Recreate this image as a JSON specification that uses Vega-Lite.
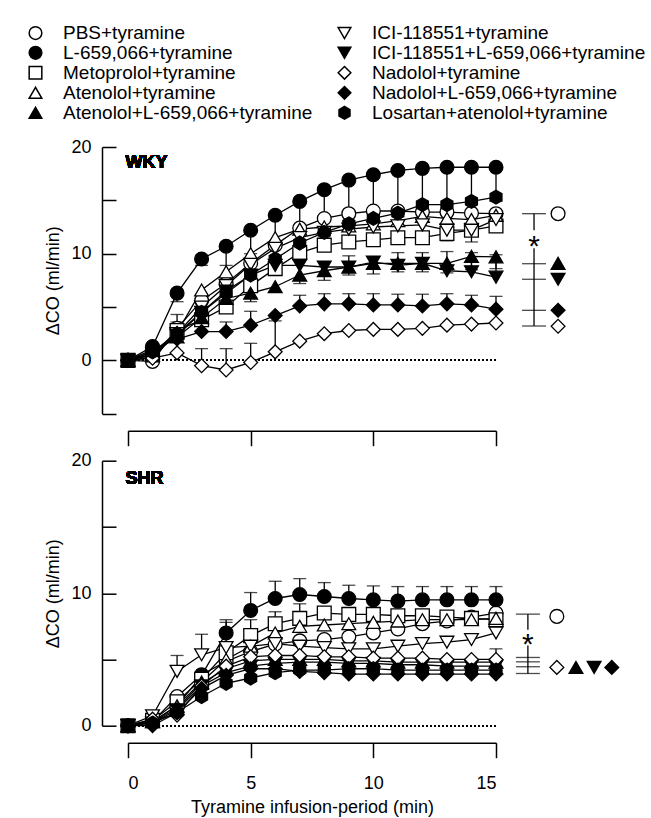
{
"$schema": "https://vega.github.io/schema/vega-lite/v6.json",
"background": "white",
"padding": {"left": 26, "top": 23, "right": 5, "bottom": 5},
"config": {
  "font": "Liberation Sans",
  "view": {"stroke": null},
  "axis": {"domainColor": "black", "tickColor": "black", "domainWidth": 1.5, "tickWidth": 1.5, "labelColor": "black", "titleColor": "black", "labelFontSize": 18, "titleFontSize": 18, "titleFontWeight": "normal", "grid": false, "labelFont": "Liberation Sans", "titleFont": "Liberation Sans"},
  "text": {"font": "Liberation Sans", "color": "black"}
},
"datasets": {
  "wky": [
    {"s":"PBS+tyramine","t":0,"v":0},{"s":"PBS+tyramine","t":1,"v":-0.1},{"s":"PBS+tyramine","t":2,"v":3.0,"e":4.3},{"s":"PBS+tyramine","t":3,"v":5.6},{"s":"PBS+tyramine","t":4,"v":7.2},{"s":"PBS+tyramine","t":5,"v":9.1},{"s":"PBS+tyramine","t":6,"v":10.8},{"s":"PBS+tyramine","t":7,"v":12.4},{"s":"PBS+tyramine","t":8,"v":13.3},{"s":"PBS+tyramine","t":9,"v":13.75},{"s":"PBS+tyramine","t":10,"v":14.0},{"s":"PBS+tyramine","t":11,"v":14.0},{"s":"PBS+tyramine","t":12,"v":13.9},{"s":"PBS+tyramine","t":13,"v":13.9},{"s":"PBS+tyramine","t":14,"v":13.8},{"s":"PBS+tyramine","t":15,"v":13.75},
    {"s":"L-659,066+tyramine","t":0,"v":0},{"s":"L-659,066+tyramine","t":1,"v":1.3},{"s":"L-659,066+tyramine","t":2,"v":6.3,"e":5.5},{"s":"L-659,066+tyramine","t":3,"v":9.5,"e":8.9},{"s":"L-659,066+tyramine","t":4,"v":10.7,"e":8.9},{"s":"L-659,066+tyramine","t":5,"v":12.2,"e":10.0},{"s":"L-659,066+tyramine","t":6,"v":13.6,"e":11.0},{"s":"L-659,066+tyramine","t":7,"v":14.9,"e":12.0},{"s":"L-659,066+tyramine","t":8,"v":16.0,"e":13.0},{"s":"L-659,066+tyramine","t":9,"v":16.9,"e":13.7},{"s":"L-659,066+tyramine","t":10,"v":17.4,"e":14.0},{"s":"L-659,066+tyramine","t":11,"v":17.8,"e":14.3},{"s":"L-659,066+tyramine","t":12,"v":18.0,"e":14.5},{"s":"L-659,066+tyramine","t":13,"v":18.1,"e":14.6},{"s":"L-659,066+tyramine","t":14,"v":18.1,"e":14.8},{"s":"L-659,066+tyramine","t":15,"v":18.1,"e":14.9},
    {"s":"Metoprolol+tyramine","t":0,"v":0},{"s":"Metoprolol+tyramine","t":1,"v":0.5},{"s":"Metoprolol+tyramine","t":2,"v":2.8,"e":3.6},{"s":"Metoprolol+tyramine","t":3,"v":3.8},{"s":"Metoprolol+tyramine","t":4,"v":5.0},{"s":"Metoprolol+tyramine","t":5,"v":7.0},{"s":"Metoprolol+tyramine","t":6,"v":8.6,"e":9.5},{"s":"Metoprolol+tyramine","t":7,"v":10.1},{"s":"Metoprolol+tyramine","t":8,"v":10.8},{"s":"Metoprolol+tyramine","t":9,"v":11.1},{"s":"Metoprolol+tyramine","t":10,"v":11.3},{"s":"Metoprolol+tyramine","t":11,"v":11.5},{"s":"Metoprolol+tyramine","t":12,"v":11.5},{"s":"Metoprolol+tyramine","t":13,"v":11.9},{"s":"Metoprolol+tyramine","t":14,"v":12.2},{"s":"Metoprolol+tyramine","t":15,"v":12.6},
    {"s":"Atenolol+tyramine","t":0,"v":0},{"s":"Atenolol+tyramine","t":1,"v":0.5},{"s":"Atenolol+tyramine","t":2,"v":2.6},{"s":"Atenolol+tyramine","t":3,"v":6.6},{"s":"Atenolol+tyramine","t":4,"v":8.3},{"s":"Atenolol+tyramine","t":5,"v":10.0},{"s":"Atenolol+tyramine","t":6,"v":11.5},{"s":"Atenolol+tyramine","t":7,"v":12.3},{"s":"Atenolol+tyramine","t":8,"v":12.5},{"s":"Atenolol+tyramine","t":9,"v":12.6},{"s":"Atenolol+tyramine","t":10,"v":12.8},{"s":"Atenolol+tyramine","t":11,"v":13.1},{"s":"Atenolol+tyramine","t":12,"v":13.5},{"s":"Atenolol+tyramine","t":13,"v":13.3},{"s":"Atenolol+tyramine","t":14,"v":13.2},{"s":"Atenolol+tyramine","t":15,"v":13.6},
    {"s":"Atenolol+L-659,066+tyramine","t":0,"v":0},{"s":"Atenolol+L-659,066+tyramine","t":1,"v":0.8},{"s":"Atenolol+L-659,066+tyramine","t":2,"v":2.2},{"s":"Atenolol+L-659,066+tyramine","t":3,"v":4.0},{"s":"Atenolol+L-659,066+tyramine","t":4,"v":5.8},{"s":"Atenolol+L-659,066+tyramine","t":5,"v":6.3,"e":5.5},{"s":"Atenolol+L-659,066+tyramine","t":6,"v":6.9},{"s":"Atenolol+L-659,066+tyramine","t":7,"v":8.0,"e":7.2},{"s":"Atenolol+L-659,066+tyramine","t":8,"v":8.4,"e":7.5},{"s":"Atenolol+L-659,066+tyramine","t":9,"v":8.75,"e":8.0},{"s":"Atenolol+L-659,066+tyramine","t":10,"v":9.1,"e":8.1},{"s":"Atenolol+L-659,066+tyramine","t":11,"v":9.1,"e":8.3},{"s":"Atenolol+L-659,066+tyramine","t":12,"v":9.1,"e":8.3},{"s":"Atenolol+L-659,066+tyramine","t":13,"v":9.1,"e":8.2},{"s":"Atenolol+L-659,066+tyramine","t":14,"v":9.75,"e":8.5},{"s":"Atenolol+L-659,066+tyramine","t":15,"v":9.7,"e":8.6},
    {"s":"ICI-118551+tyramine","t":0,"v":0},{"s":"ICI-118551+tyramine","t":1,"v":0.3},{"s":"ICI-118551+tyramine","t":2,"v":2.5},{"s":"ICI-118551+tyramine","t":3,"v":5.0},{"s":"ICI-118551+tyramine","t":4,"v":7.0},{"s":"ICI-118551+tyramine","t":5,"v":9.0},{"s":"ICI-118551+tyramine","t":6,"v":10.5},{"s":"ICI-118551+tyramine","t":7,"v":11.5},{"s":"ICI-118551+tyramine","t":8,"v":12.0},{"s":"ICI-118551+tyramine","t":9,"v":12.3},{"s":"ICI-118551+tyramine","t":10,"v":12.5},{"s":"ICI-118551+tyramine","t":11,"v":12.6},{"s":"ICI-118551+tyramine","t":12,"v":12.7},{"s":"ICI-118551+tyramine","t":13,"v":12.2,"e":11.2},{"s":"ICI-118551+tyramine","t":14,"v":12.2,"e":11.1},{"s":"ICI-118551+tyramine","t":15,"v":13.2},
    {"s":"ICI-118551+L-659,066+tyramine","t":0,"v":0},{"s":"ICI-118551+L-659,066+tyramine","t":1,"v":0.6},{"s":"ICI-118551+L-659,066+tyramine","t":2,"v":2.3},{"s":"ICI-118551+L-659,066+tyramine","t":3,"v":4.5},{"s":"ICI-118551+L-659,066+tyramine","t":4,"v":6.5},{"s":"ICI-118551+L-659,066+tyramine","t":5,"v":8.0},{"s":"ICI-118551+L-659,066+tyramine","t":6,"v":8.9},{"s":"ICI-118551+L-659,066+tyramine","t":7,"v":8.9},{"s":"ICI-118551+L-659,066+tyramine","t":8,"v":8.75},{"s":"ICI-118551+L-659,066+tyramine","t":9,"v":8.75,"e":9.8},{"s":"ICI-118551+L-659,066+tyramine","t":10,"v":9.2},{"s":"ICI-118551+L-659,066+tyramine","t":11,"v":8.9,"e":10.1},{"s":"ICI-118551+L-659,066+tyramine","t":12,"v":9.1,"e":10.1},{"s":"ICI-118551+L-659,066+tyramine","t":13,"v":8.4,"e":10.2},{"s":"ICI-118551+L-659,066+tyramine","t":14,"v":8.3,"e":10.1},{"s":"ICI-118551+L-659,066+tyramine","t":15,"v":7.8,"e":9.9},
    {"s":"Nadolol+tyramine","t":0,"v":0},{"s":"Nadolol+tyramine","t":1,"v":0.2},{"s":"Nadolol+tyramine","t":2,"v":0.7},{"s":"Nadolol+tyramine","t":3,"v":-0.5,"e":1.1},{"s":"Nadolol+tyramine","t":4,"v":-0.9,"e":1.1},{"s":"Nadolol+tyramine","t":5,"v":-0.2,"e":1.6},{"s":"Nadolol+tyramine","t":6,"v":0.8,"e":3.7},{"s":"Nadolol+tyramine","t":7,"v":1.8},{"s":"Nadolol+tyramine","t":8,"v":2.5},{"s":"Nadolol+tyramine","t":9,"v":2.8},{"s":"Nadolol+tyramine","t":10,"v":2.9},{"s":"Nadolol+tyramine","t":11,"v":2.9},{"s":"Nadolol+tyramine","t":12,"v":3.0},{"s":"Nadolol+tyramine","t":13,"v":3.3},{"s":"Nadolol+tyramine","t":14,"v":3.4},{"s":"Nadolol+tyramine","t":15,"v":3.5},
    {"s":"Nadolol+L-659,066+tyramine","t":0,"v":0},{"s":"Nadolol+L-659,066+tyramine","t":1,"v":1.0},{"s":"Nadolol+L-659,066+tyramine","t":2,"v":2.0},{"s":"Nadolol+L-659,066+tyramine","t":3,"v":2.7},{"s":"Nadolol+L-659,066+tyramine","t":4,"v":2.7,"e":3.6},{"s":"Nadolol+L-659,066+tyramine","t":5,"v":3.3,"e":4.6},{"s":"Nadolol+L-659,066+tyramine","t":6,"v":4.2},{"s":"Nadolol+L-659,066+tyramine","t":7,"v":5.1,"e":6.1},{"s":"Nadolol+L-659,066+tyramine","t":8,"v":5.3,"e":6.25},{"s":"Nadolol+L-659,066+tyramine","t":9,"v":5.3,"e":6.25},{"s":"Nadolol+L-659,066+tyramine","t":10,"v":5.2,"e":6.25},{"s":"Nadolol+L-659,066+tyramine","t":11,"v":5.2,"e":6.2},{"s":"Nadolol+L-659,066+tyramine","t":12,"v":5.1,"e":6.2},{"s":"Nadolol+L-659,066+tyramine","t":13,"v":5.3,"e":6.25},{"s":"Nadolol+L-659,066+tyramine","t":14,"v":5.2,"e":6.1},{"s":"Nadolol+L-659,066+tyramine","t":15,"v":4.8,"e":6.0},
    {"s":"Losartan+atenolol+tyramine","t":0,"v":0},{"s":"Losartan+atenolol+tyramine","t":1,"v":0.8},{"s":"Losartan+atenolol+tyramine","t":2,"v":2.5},{"s":"Losartan+atenolol+tyramine","t":3,"v":4.5},{"s":"Losartan+atenolol+tyramine","t":4,"v":6.3},{"s":"Losartan+atenolol+tyramine","t":5,"v":8.0},{"s":"Losartan+atenolol+tyramine","t":6,"v":9.5},{"s":"Losartan+atenolol+tyramine","t":7,"v":11.0},{"s":"Losartan+atenolol+tyramine","t":8,"v":12.0},{"s":"Losartan+atenolol+tyramine","t":9,"v":12.8},{"s":"Losartan+atenolol+tyramine","t":10,"v":13.3},{"s":"Losartan+atenolol+tyramine","t":11,"v":13.8},{"s":"Losartan+atenolol+tyramine","t":12,"v":14.6},{"s":"Losartan+atenolol+tyramine","t":13,"v":14.6},{"s":"Losartan+atenolol+tyramine","t":14,"v":14.9},{"s":"Losartan+atenolol+tyramine","t":15,"v":15.3}
  ],
  "shr": [
    {"s":"PBS+tyramine","t":0,"v":0},{"s":"PBS+tyramine","t":1,"v":0.3},{"s":"PBS+tyramine","t":2,"v":2.2},{"s":"PBS+tyramine","t":3,"v":3.85},{"s":"PBS+tyramine","t":4,"v":4.85},{"s":"PBS+tyramine","t":5,"v":5.6},{"s":"PBS+tyramine","t":6,"v":6.15},{"s":"PBS+tyramine","t":7,"v":6.4},{"s":"PBS+tyramine","t":8,"v":6.5},{"s":"PBS+tyramine","t":9,"v":6.7},{"s":"PBS+tyramine","t":10,"v":7.0},{"s":"PBS+tyramine","t":11,"v":7.3},{"s":"PBS+tyramine","t":12,"v":7.7},{"s":"PBS+tyramine","t":13,"v":7.9},{"s":"PBS+tyramine","t":14,"v":8.2},{"s":"PBS+tyramine","t":15,"v":8.5},
    {"s":"L-659,066+tyramine","t":0,"v":0},{"s":"L-659,066+tyramine","t":1,"v":0.3},{"s":"L-659,066+tyramine","t":2,"v":1.5},{"s":"L-659,066+tyramine","t":3,"v":3.8},{"s":"L-659,066+tyramine","t":4,"v":7.0,"e":8.0},{"s":"L-659,066+tyramine","t":5,"v":8.7,"e":10.05},{"s":"L-659,066+tyramine","t":6,"v":9.6,"e":10.9},{"s":"L-659,066+tyramine","t":7,"v":9.9,"e":11.1},{"s":"L-659,066+tyramine","t":8,"v":9.75,"e":10.8},{"s":"L-659,066+tyramine","t":9,"v":9.6,"e":10.6},{"s":"L-659,066+tyramine","t":10,"v":9.5,"e":10.55},{"s":"L-659,066+tyramine","t":11,"v":9.4,"e":10.5},{"s":"L-659,066+tyramine","t":12,"v":9.5,"e":10.5},{"s":"L-659,066+tyramine","t":13,"v":9.5,"e":10.5},{"s":"L-659,066+tyramine","t":14,"v":9.5,"e":10.5},{"s":"L-659,066+tyramine","t":15,"v":9.5,"e":10.5},
    {"s":"Metoprolol+tyramine","t":0,"v":0},{"s":"Metoprolol+tyramine","t":1,"v":0.4},{"s":"Metoprolol+tyramine","t":2,"v":1.8},{"s":"Metoprolol+tyramine","t":3,"v":3.5},{"s":"Metoprolol+tyramine","t":4,"v":5.5,"e":7.8},{"s":"Metoprolol+tyramine","t":5,"v":6.8,"e":8.0},{"s":"Metoprolol+tyramine","t":6,"v":7.7,"e":8.6},{"s":"Metoprolol+tyramine","t":7,"v":8.1,"e":9.2},{"s":"Metoprolol+tyramine","t":8,"v":8.5},{"s":"Metoprolol+tyramine","t":9,"v":8.4},{"s":"Metoprolol+tyramine","t":10,"v":8.4},{"s":"Metoprolol+tyramine","t":11,"v":8.3},{"s":"Metoprolol+tyramine","t":12,"v":8.3},{"s":"Metoprolol+tyramine","t":13,"v":8.2},{"s":"Metoprolol+tyramine","t":14,"v":8.1},{"s":"Metoprolol+tyramine","t":15,"v":8.0},
    {"s":"Atenolol+tyramine","t":0,"v":0},{"s":"Atenolol+tyramine","t":1,"v":0.3},{"s":"Atenolol+tyramine","t":2,"v":1.5},{"s":"Atenolol+tyramine","t":3,"v":3.3},{"s":"Atenolol+tyramine","t":4,"v":5.0},{"s":"Atenolol+tyramine","t":5,"v":6.0},{"s":"Atenolol+tyramine","t":6,"v":7.0},{"s":"Atenolol+tyramine","t":7,"v":7.5},{"s":"Atenolol+tyramine","t":8,"v":7.6},{"s":"Atenolol+tyramine","t":9,"v":7.7},{"s":"Atenolol+tyramine","t":10,"v":7.8},{"s":"Atenolol+tyramine","t":11,"v":7.9},{"s":"Atenolol+tyramine","t":12,"v":8.0},{"s":"Atenolol+tyramine","t":13,"v":8.0},{"s":"Atenolol+tyramine","t":14,"v":8.0},{"s":"Atenolol+tyramine","t":15,"v":8.1},
    {"s":"ICI-118551+tyramine","t":0,"v":0},{"s":"ICI-118551+tyramine","t":1,"v":0.75},{"s":"ICI-118551+tyramine","t":2,"v":4.1,"e":5.3},{"s":"ICI-118551+tyramine","t":3,"v":5.35,"e":6.9},{"s":"ICI-118551+tyramine","t":4,"v":5.9},{"s":"ICI-118551+tyramine","t":5,"v":6.0},{"s":"ICI-118551+tyramine","t":6,"v":6.2},{"s":"ICI-118551+tyramine","t":7,"v":6.0},{"s":"ICI-118551+tyramine","t":8,"v":5.9},{"s":"ICI-118551+tyramine","t":9,"v":5.8},{"s":"ICI-118551+tyramine","t":10,"v":5.8},{"s":"ICI-118551+tyramine","t":11,"v":6.0},{"s":"ICI-118551+tyramine","t":12,"v":6.2},{"s":"ICI-118551+tyramine","t":13,"v":6.3},{"s":"ICI-118551+tyramine","t":14,"v":6.5},{"s":"ICI-118551+tyramine","t":15,"v":7.0},
    {"s":"ICI-118551+L-659,066+tyramine","t":0,"v":0},{"s":"ICI-118551+L-659,066+tyramine","t":1,"v":0.2},{"s":"ICI-118551+L-659,066+tyramine","t":2,"v":1.2},{"s":"ICI-118551+L-659,066+tyramine","t":3,"v":3.0},{"s":"ICI-118551+L-659,066+tyramine","t":4,"v":4.0},{"s":"ICI-118551+L-659,066+tyramine","t":5,"v":4.5},{"s":"ICI-118551+L-659,066+tyramine","t":6,"v":4.7},{"s":"ICI-118551+L-659,066+tyramine","t":7,"v":4.8},{"s":"ICI-118551+L-659,066+tyramine","t":8,"v":4.8},{"s":"ICI-118551+L-659,066+tyramine","t":9,"v":4.7},{"s":"ICI-118551+L-659,066+tyramine","t":10,"v":4.7},{"s":"ICI-118551+L-659,066+tyramine","t":11,"v":4.6},{"s":"ICI-118551+L-659,066+tyramine","t":12,"v":4.6},{"s":"ICI-118551+L-659,066+tyramine","t":13,"v":4.5},{"s":"ICI-118551+L-659,066+tyramine","t":14,"v":4.5},{"s":"ICI-118551+L-659,066+tyramine","t":15,"v":4.5},
    {"s":"Atenolol+L-659,066+tyramine","t":0,"v":0},{"s":"Atenolol+L-659,066+tyramine","t":1,"v":0.3},{"s":"Atenolol+L-659,066+tyramine","t":2,"v":1.3},{"s":"Atenolol+L-659,066+tyramine","t":3,"v":3.2},{"s":"Atenolol+L-659,066+tyramine","t":4,"v":4.3},{"s":"Atenolol+L-659,066+tyramine","t":5,"v":4.9},{"s":"Atenolol+L-659,066+tyramine","t":6,"v":5.0},{"s":"Atenolol+L-659,066+tyramine","t":7,"v":5.0},{"s":"Atenolol+L-659,066+tyramine","t":8,"v":5.0},{"s":"Atenolol+L-659,066+tyramine","t":9,"v":4.9},{"s":"Atenolol+L-659,066+tyramine","t":10,"v":4.9},{"s":"Atenolol+L-659,066+tyramine","t":11,"v":4.8},{"s":"Atenolol+L-659,066+tyramine","t":12,"v":4.8},{"s":"Atenolol+L-659,066+tyramine","t":13,"v":4.8},{"s":"Atenolol+L-659,066+tyramine","t":14,"v":4.8},{"s":"Atenolol+L-659,066+tyramine","t":15,"v":4.8,"e":5.8},
    {"s":"Nadolol+tyramine","t":0,"v":0},{"s":"Nadolol+tyramine","t":1,"v":0.5},{"s":"Nadolol+tyramine","t":2,"v":0.8},{"s":"Nadolol+tyramine","t":3,"v":3.0},{"s":"Nadolol+tyramine","t":4,"v":4.5},{"s":"Nadolol+tyramine","t":5,"v":5.2},{"s":"Nadolol+tyramine","t":6,"v":5.3},{"s":"Nadolol+tyramine","t":7,"v":5.3},{"s":"Nadolol+tyramine","t":8,"v":5.2},{"s":"Nadolol+tyramine","t":9,"v":5.2},{"s":"Nadolol+tyramine","t":10,"v":5.1},{"s":"Nadolol+tyramine","t":11,"v":5.1},{"s":"Nadolol+tyramine","t":12,"v":5.1},{"s":"Nadolol+tyramine","t":13,"v":5.0},{"s":"Nadolol+tyramine","t":14,"v":5.0},{"s":"Nadolol+tyramine","t":15,"v":5.0},
    {"s":"Nadolol+L-659,066+tyramine","t":0,"v":0},{"s":"Nadolol+L-659,066+tyramine","t":1,"v":0.0},{"s":"Nadolol+L-659,066+tyramine","t":2,"v":1.0},{"s":"Nadolol+L-659,066+tyramine","t":3,"v":2.8},{"s":"Nadolol+L-659,066+tyramine","t":4,"v":3.8},{"s":"Nadolol+L-659,066+tyramine","t":5,"v":4.3},{"s":"Nadolol+L-659,066+tyramine","t":6,"v":4.3},{"s":"Nadolol+L-659,066+tyramine","t":7,"v":4.1},{"s":"Nadolol+L-659,066+tyramine","t":8,"v":4.0},{"s":"Nadolol+L-659,066+tyramine","t":9,"v":3.9},{"s":"Nadolol+L-659,066+tyramine","t":10,"v":3.9},{"s":"Nadolol+L-659,066+tyramine","t":11,"v":3.9},{"s":"Nadolol+L-659,066+tyramine","t":12,"v":3.9},{"s":"Nadolol+L-659,066+tyramine","t":13,"v":3.9},{"s":"Nadolol+L-659,066+tyramine","t":14,"v":3.9},{"s":"Nadolol+L-659,066+tyramine","t":15,"v":3.9},
    {"s":"Losartan+atenolol+tyramine","t":0,"v":0},{"s":"Losartan+atenolol+tyramine","t":1,"v":0.2},{"s":"Losartan+atenolol+tyramine","t":2,"v":1.0},{"s":"Losartan+atenolol+tyramine","t":3,"v":2.2},{"s":"Losartan+atenolol+tyramine","t":4,"v":3.2},{"s":"Losartan+atenolol+tyramine","t":5,"v":3.6},{"s":"Losartan+atenolol+tyramine","t":6,"v":4.0},{"s":"Losartan+atenolol+tyramine","t":7,"v":4.2},{"s":"Losartan+atenolol+tyramine","t":8,"v":4.2},{"s":"Losartan+atenolol+tyramine","t":9,"v":4.3},{"s":"Losartan+atenolol+tyramine","t":10,"v":4.3},{"s":"Losartan+atenolol+tyramine","t":11,"v":4.2},{"s":"Losartan+atenolol+tyramine","t":12,"v":4.2},{"s":"Losartan+atenolol+tyramine","t":13,"v":4.2},{"s":"Losartan+atenolol+tyramine","t":14,"v":4.2},{"s":"Losartan+atenolol+tyramine","t":15,"v":4.2}
  ]
},
"spacing": 46.7,
"bounds": "flush",
"vconcat": [
  {
    "width": 368, "height": 266.7,
    "data": {"name": "wky"},
    "layer": [
      {"mark": {"type": "point", "filled": true, "stroke": "black", "strokeWidth": 1.5, "opacity": 1, "size": 0},
       "encoding": {
         "x": {"field": "t", "type": "quantitative", "scale": {"domain": [0, 15], "nice": false, "zero": false}, "axis": {"values": [0, 5, 10, 15], "labels": false, "title": null, "offset": 17, "tickSize": 15}},
         "y": {"field": "v", "type": "quantitative", "scale": {"domain": [-5, 20], "nice": false, "zero": false}, "axis": {"values": [-5, 0, 5, 10, 15, 20], "labelExpr": "datum.value % 10 == 0 ? datum.label : ''", "title": "ΔCO (ml/min)", "offset": 26, "tickSize": -14, "labelPadding": 25, "titlePadding": 8}},
         "shape": {"field": "s", "type": "nominal",
           "scale": {"domain": ["PBS+tyramine", "L-659,066+tyramine", "Metoprolol+tyramine", "Atenolol+tyramine", "Atenolol+L-659,066+tyramine", "ICI-118551+tyramine", "ICI-118551+L-659,066+tyramine", "Nadolol+tyramine", "Nadolol+L-659,066+tyramine", "Losartan+atenolol+tyramine"],
                     "range": ["circle", "circle", "square", "triangle-up", "triangle-up", "triangle-down", "triangle-down", "diamond", "diamond", "M0,-1L0.866,-0.5L0.866,0.5L0,1L-0.866,0.5L-0.866,-0.5Z"]},
           "legend": {"title": null, "orient": "none", "legendX": -102, "legendY": -123.7, "columns": 2, "labelFontSize": 19, "labelLimit": 500, "labelColor": "black", "symbolSize": 160, "symbolStrokeWidth": 1.5, "symbolStrokeColor": "black", "symbolOpacity": 1, "labelOffset": 18, "columnPadding": 22, "rowPadding": -2, "padding": 0,
             "encode": {"symbols": {"update": {"stroke": {"value": "black"}, "strokeWidth": {"value": 1.5}}}}}},
         "fill": {"field": "s", "type": "nominal",
           "scale": {"domain": ["PBS+tyramine", "L-659,066+tyramine", "Metoprolol+tyramine", "Atenolol+tyramine", "Atenolol+L-659,066+tyramine", "ICI-118551+tyramine", "ICI-118551+L-659,066+tyramine", "Nadolol+tyramine", "Nadolol+L-659,066+tyramine", "Losartan+atenolol+tyramine"],
                     "range": ["white", "black", "white", "white", "black", "white", "black", "white", "black", "black"]},
           "legend": {"title": null, "orient": "none", "legendX": -102, "legendY": -123.7, "columns": 2, "labelFontSize": 19, "labelLimit": 500, "labelColor": "black", "symbolSize": 160, "symbolStrokeWidth": 1.5, "symbolStrokeColor": "black", "symbolOpacity": 1, "labelOffset": 18, "columnPadding": 22, "rowPadding": -2, "padding": 0,
             "encode": {"symbols": {"update": {"stroke": {"value": "black"}, "strokeWidth": {"value": 1.5}}}}}}
       }},
      {"mark": {"type": "rule", "strokeDash": [1.5, 2.5], "color": "black", "strokeWidth": 1}, "encoding": {"y": {"datum": 0, "type": "quantitative"}}},
      {"mark": {"type": "line", "color": "black", "strokeWidth": 1.3}, "encoding": {"x": {"field": "t", "type": "quantitative"}, "y": {"field": "v", "type": "quantitative"}, "detail": {"field": "s"}}},
      {"transform": [{"filter": "isValid(datum.e)"}], "mark": {"type": "rule", "color": "black", "strokeWidth": 1.3}, "encoding": {"x": {"field": "t", "type": "quantitative"}, "y": {"field": "v", "type": "quantitative"}, "y2": {"field": "e"}}},
      {"transform": [{"filter": "isValid(datum.e)"}], "mark": {"type": "tick", "orient": "horizontal", "color": "black", "size": 13, "thickness": 1.3}, "encoding": {"x": {"field": "t", "type": "quantitative"}, "y": {"field": "e", "type": "quantitative"}}},
      {"mark": {"type": "point", "filled": true, "stroke": "black", "strokeWidth": 1.3, "opacity": 1},
       "encoding": {"x": {"field": "t", "type": "quantitative"}, "y": {"field": "v", "type": "quantitative"}, "shape": {"field": "s", "type": "nominal"}, "fill": {"field": "s", "type": "nominal"},
         "size": {"field": "s", "type": "nominal", "legend": null,
           "scale": {"domain": ["Atenolol+L-659,066+tyramine", "Atenolol+tyramine", "ICI-118551+L-659,066+tyramine", "ICI-118551+tyramine", "L-659,066+tyramine", "Losartan+atenolol+tyramine", "Metoprolol+tyramine", "Nadolol+L-659,066+tyramine", "Nadolol+tyramine", "PBS+tyramine"],
                     "range": [190, 190, 190, 190, 190, 190, 140, 225, 225, 190]}}}},
      {"mark": {"type": "text", "text": "WKY", "fontSize": 18, "fontWeight": "bold", "align": "left", "baseline": "middle", "fill": "black"}, "encoding": {"x": {"datum": -0.1, "type": "quantitative"}, "y": {"datum": 18.5, "type": "quantitative"}}},
      {"data": {"values": [{"x": 16.55, "y": 13.75, "y2": 12.2}, {"x": 16.55, "y": 10.5, "y2": 3.22}]}, "mark": {"type": "rule", "color": "black", "strokeWidth": 1.3}, "encoding": {"x": {"field": "x", "type": "quantitative"}, "y": {"field": "y", "type": "quantitative"}, "y2": {"field": "y2"}}},
      {"data": {"values": [{"x": 16.55, "y": 13.75}, {"x": 16.55, "y": 9.06}, {"x": 16.55, "y": 7.6}, {"x": 16.55, "y": 4.69}, {"x": 16.55, "y": 3.22}]}, "mark": {"type": "tick", "orient": "horizontal", "color": "black", "size": 24, "thickness": 1.3}, "encoding": {"x": {"field": "x", "type": "quantitative"}, "y": {"field": "y", "type": "quantitative"}}},
      {"data": {"values": [{"x": 16.55, "y": 11.35, "label": "*"}]}, "mark": {"type": "text", "fontSize": 30, "dy": 8, "align": "center", "baseline": "middle", "fill": "black"}, "encoding": {"x": {"field": "x", "type": "quantitative"}, "y": {"field": "y", "type": "quantitative"}, "text": {"field": "label"}}},
      {"data": {"values": [{"s": "PBS+tyramine", "x": 17.53, "y": 13.75}, {"s": "Atenolol+L-659,066+tyramine", "x": 17.53, "y": 9.1}, {"s": "ICI-118551+L-659,066+tyramine", "x": 17.53, "y": 7.6}, {"s": "Nadolol+L-659,066+tyramine", "x": 17.53, "y": 4.7}, {"s": "Nadolol+tyramine", "x": 17.53, "y": 3.2}]},
       "mark": {"type": "point", "filled": true, "stroke": "black", "strokeWidth": 1.3, "opacity": 1},
       "encoding": {"x": {"field": "x", "type": "quantitative"}, "y": {"field": "y", "type": "quantitative"}, "shape": {"field": "s", "type": "nominal"}, "fill": {"field": "s", "type": "nominal"}, "size": {"field": "s", "type": "nominal", "legend": null}}}
    ]
  },
  {
    "width": 368, "height": 265,
    "data": {"name": "shr"},
    "layer": [
      {"mark": {"type": "point", "filled": true, "stroke": "black", "strokeWidth": 1.3, "opacity": 1, "size": 0},
       "encoding": {
         "x": {"field": "t", "type": "quantitative", "scale": {"domain": [0, 15], "nice": false, "zero": false}, "axis": {"values": [0, 5, 10, 15], "title": "Tyramine infusion-period (min)", "offset": 17, "tickSize": 15, "labelPadding": 17, "titlePadding": 6}},
         "y": {"field": "v", "type": "quantitative", "scale": {"domain": [0, 20], "nice": false, "zero": false}, "axis": {"values": [0, 5, 10, 15, 20], "labelExpr": "datum.value % 10 == 0 ? datum.label : ''", "title": "ΔCO (ml/min)", "offset": 26, "tickSize": -14, "labelPadding": 25, "titlePadding": 8}},
         "shape": {"field": "s", "type": "nominal"},
         "fill": {"field": "s", "type": "nominal"}
       }},
      {"mark": {"type": "rule", "strokeDash": [1.5, 2.5], "color": "black", "strokeWidth": 1}, "encoding": {"y": {"datum": 0, "type": "quantitative"}}},
      {"mark": {"type": "line", "color": "black", "strokeWidth": 1.3}, "encoding": {"x": {"field": "t", "type": "quantitative"}, "y": {"field": "v", "type": "quantitative"}, "detail": {"field": "s"}}},
      {"transform": [{"filter": "isValid(datum.e)"}], "mark": {"type": "rule", "color": "black", "strokeWidth": 1.3}, "encoding": {"x": {"field": "t", "type": "quantitative"}, "y": {"field": "v", "type": "quantitative"}, "y2": {"field": "e"}}},
      {"transform": [{"filter": "isValid(datum.e)"}], "mark": {"type": "tick", "orient": "horizontal", "color": "black", "size": 13, "thickness": 1.3}, "encoding": {"x": {"field": "t", "type": "quantitative"}, "y": {"field": "e", "type": "quantitative"}}},
      {"mark": {"type": "point", "filled": true, "stroke": "black", "strokeWidth": 1.3, "opacity": 1},
       "encoding": {"x": {"field": "t", "type": "quantitative"}, "y": {"field": "v", "type": "quantitative"}, "shape": {"field": "s", "type": "nominal"}, "fill": {"field": "s", "type": "nominal"}, "size": {"field": "s", "type": "nominal", "legend": null}}},
      {"mark": {"type": "text", "text": "SHR", "fontSize": 18, "fontWeight": "bold", "align": "left", "baseline": "middle", "fill": "black"}, "encoding": {"x": {"datum": -0.1, "type": "quantitative"}, "y": {"datum": 18.6, "type": "quantitative"}}},
      {"data": {"values": [{"x": 16.3, "y": 8.42, "y2": 7.25}, {"x": 16.3, "y": 6.05, "y2": 3.94}]}, "mark": {"type": "rule", "color": "black", "strokeWidth": 1.3}, "encoding": {"x": {"field": "x", "type": "quantitative"}, "y": {"field": "y", "type": "quantitative"}, "y2": {"field": "y2"}}},
      {"data": {"values": [{"x": 16.3, "y": 8.42}, {"x": 16.3, "y": 5.15}, {"x": 16.3, "y": 4.82}, {"x": 16.3, "y": 4.45}, {"x": 16.3, "y": 3.94}]}, "mark": {"type": "tick", "orient": "horizontal", "color": "black", "size": 24, "thickness": 1.3}, "encoding": {"x": {"field": "x", "type": "quantitative"}, "y": {"field": "y", "type": "quantitative"}}},
      {"data": {"values": [{"x": 16.3, "y": 6.66, "label": "*"}]}, "mark": {"type": "text", "fontSize": 30, "dy": 8, "align": "center", "baseline": "middle", "fill": "black"}, "encoding": {"x": {"field": "x", "type": "quantitative"}, "y": {"field": "y", "type": "quantitative"}, "text": {"field": "label"}}},
      {"data": {"values": [{"s": "PBS+tyramine", "x": 17.48, "y": 8.25}, {"s": "Nadolol+tyramine", "x": 17.48, "y": 4.4}, {"s": "Atenolol+L-659,066+tyramine", "x": 18.26, "y": 4.4}, {"s": "ICI-118551+L-659,066+tyramine", "x": 19.0, "y": 4.4}, {"s": "Nadolol+L-659,066+tyramine", "x": 19.72, "y": 4.4}]},
       "mark": {"type": "point", "filled": true, "stroke": "black", "strokeWidth": 1.3, "opacity": 1},
       "encoding": {"x": {"field": "x", "type": "quantitative"}, "y": {"field": "y", "type": "quantitative"}, "shape": {"field": "s", "type": "nominal"}, "fill": {"field": "s", "type": "nominal"}, "size": {"field": "s", "type": "nominal", "legend": null}}}
    ]
  }
]
}
